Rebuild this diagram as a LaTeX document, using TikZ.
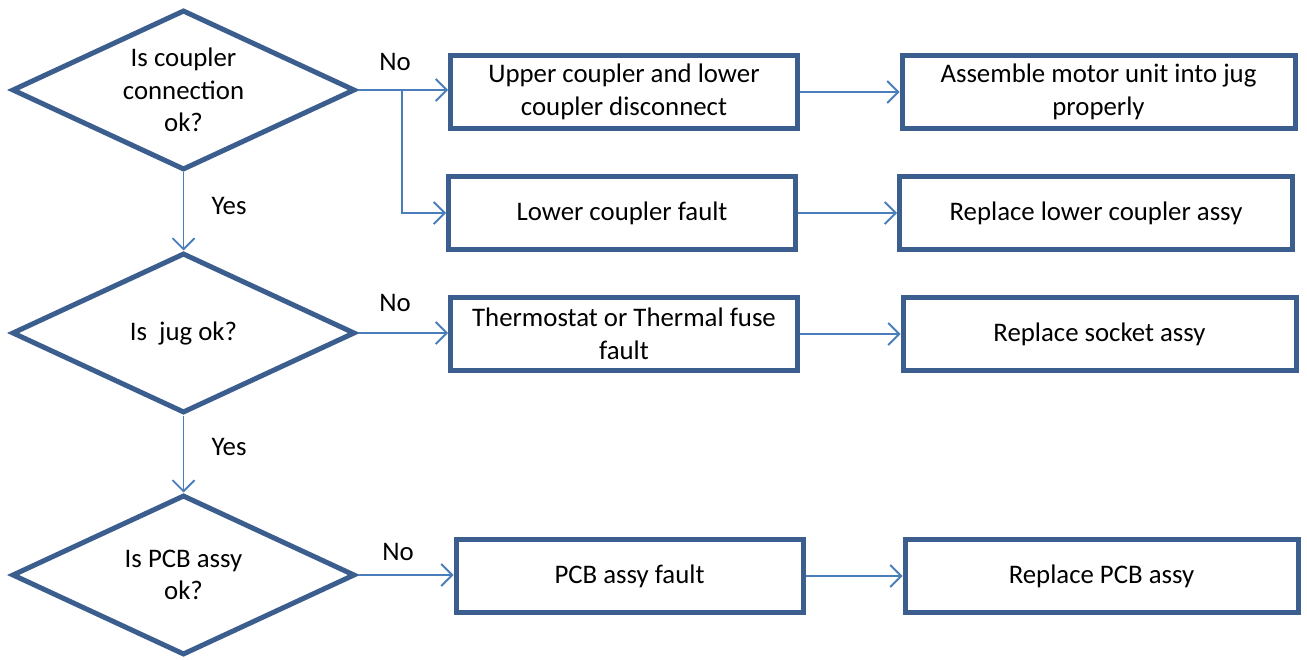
\documentclass[tikz,border=0pt]{standalone}
\usepackage{fontspec}
\setmainfont{Carlito}
\usetikzlibrary{shapes.geometric,arrows.meta}
\definecolor{bordercol}{HTML}{3B5E8F}
\definecolor{arrowcol}{HTML}{4A7EBB}
\tikzset{
  every node/.style={font=\fontsize{26.8}{32.5}\selectfont, text=black},
  decision/.style={diamond, shape aspect=2.15, draw=bordercol, line width=5pt, fill=white, inner sep=0pt,
    minimum width=343pt, minimum height=160pt, align=center},
  procbox/.style={rectangle, draw=bordercol, line width=5pt, fill=white, inner sep=0pt,
    minimum height=73pt, align=center},
  smallbox/.style={procbox, minimum width=347pt},
  widebox/.style={procbox, minimum width=393pt},
  conn/.style={draw=arrowcol, line width=1.8pt, -{Straight Barb[length=11pt,width=22pt,line width=1.8pt]}},
  lbl/.style={inner sep=0pt},
}
\begin{document}
\begin{tikzpicture}[x=1pt,y=-1pt]
\useasboundingbox (0,0) rectangle (1307,660);
\node[decision] (d1) at (183.5,90) {Is coupler\\connection\\ok?};
\node[decision] (d2) at (183.5,333) {Is\ \ jug ok?};
\node[decision] (d3) at (183.5,575) {Is PCB assy\\ok?};

\node[smallbox] (b1) at (624,92) {Upper coupler and lower\\coupler disconnect};
\node[smallbox] (b2) at (622,213) {Lower coupler fault};
\node[smallbox] (b3) at (624,334) {Thermostat or Thermal fuse\\fault};
\node[smallbox] (b4) at (629.5,576) {PCB assy fault};

\node[widebox] (r1) at (1098.5,92) {Assemble motor unit into jug\\properly};
\node[widebox] (r2) at (1096,213) {Replace lower coupler assy};
\node[widebox] (r3) at (1099.5,334) {Replace socket assy};
\node[widebox] (r4) at (1101.5,576) {Replace PCB assy};

\coordinate (br) at (402,90);

\draw[conn] (d1.east) -- (d1.east -| b1.west);
\draw[conn] (br) |- (b2.west);
\draw[conn] (d2.east) -- (d2.east -| b3.west);
\draw[conn] (d3.east) -- (d3.east -| b4.west);
\draw[conn] (d1.south) -- (d2.north);
\draw[conn] (d2.south) -- (d3.north);

\draw[conn] (b1.east) -- (b1.east -| r1.west);
\draw[conn] (b2.east) -- (b2.east -| r2.west);
\draw[conn] (b3.east) -- (b3.east -| r3.west);
\draw[conn] (b4.east) -- (b4.east -| r4.west);

\node[lbl] (no1) at (395,62) {No};
\node[lbl] (no2) at (395,303) {No};
\node[lbl] (no3) at (398,552) {No};
\node[lbl] (yes1) at (229,206) {Yes};
\node[lbl] (yes2) at (229,447) {Yes};
\end{tikzpicture}
\end{document}
